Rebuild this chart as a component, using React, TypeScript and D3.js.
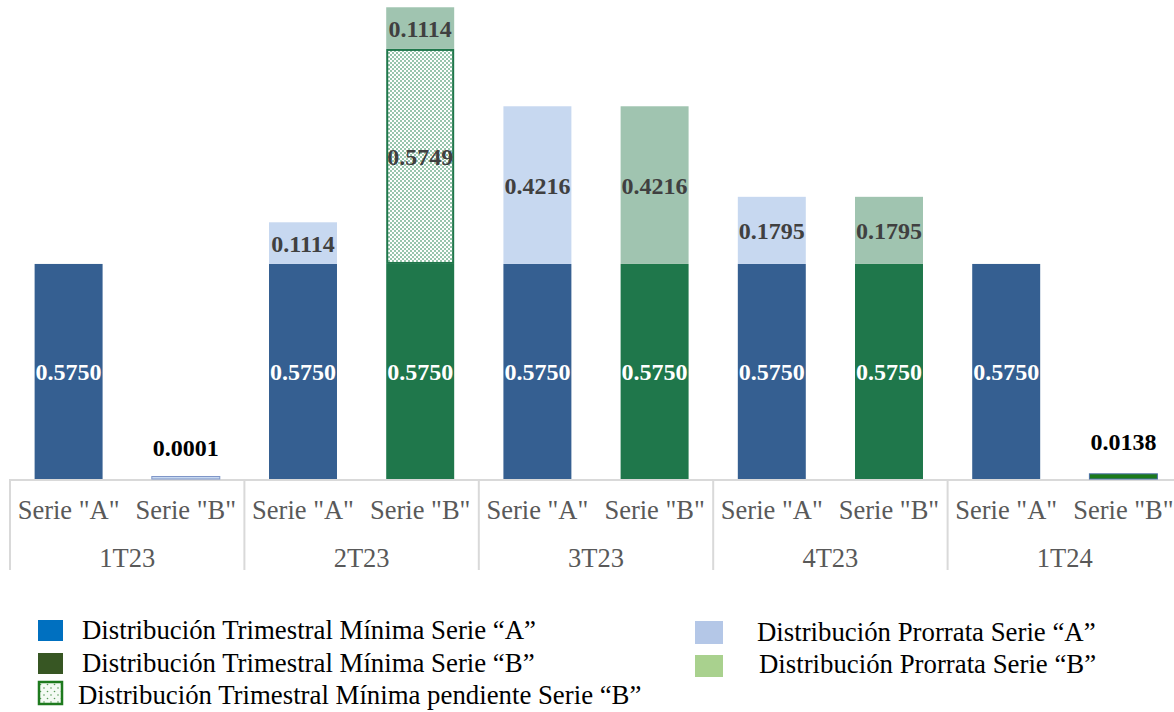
import React from "react";
import * as d3 from "d3";

const quarters = ["1T23", "2T23", "3T23", "4T23", "1T24"];
const seriesNames = ['Serie "A"', 'Serie "B"'];

const minimaA = [0.575, 0.575, 0.575, 0.575, 0.575];
const prorrataA = [0, 0.1114, 0.4216, 0.1795, 0];
const minimaB = [0.0001, 0.575, 0.575, 0.575, 0.0138];
const pendienteB = [0, 0.5749, 0, 0, 0];
const prorrataB = [0, 0.1114, 0.4216, 0.1795, 0];

const legendLeft = [
  "Distribución Trimestral Mínima Serie “A”",
  "Distribución Trimestral Mínima Serie “B”",
  "Distribución Trimestral Mínima pendiente Serie “B”",
];
const legendRight = ["Distribución Prorrata Serie “A”", "Distribución Prorrata Serie “B”"];

const FONT = '"Liberation Serif", "Times New Roman", serif';

const COL = {
  minA: "#355f91",
  proA: "#c7d8f0",
  minB: "#1f774b",
  proB: "#a0c4b0",
  pendBorder: "#1f774b",
};

type Seg = { key: string; value: number; fill: string; pattern?: boolean; dark: boolean };

export default function App() {
  const W = 1174;
  const H = 712;
  const baseY = 479;
  const x0 = d3.scaleBand<string>().domain(quarters).range([10, 1182]).padding(0);
  const x1 = d3.scaleBand<string>().domain(seriesNames).range([0, x0.bandwidth()]).paddingInner(0.42).paddingOuter(0.21);
  const y = d3.scaleLinear().domain([0, 1.28]).range([baseY, baseY - 1.28 * 374]);

  const bars: { q: string; s: string; segs: Seg[] }[] = [];
  quarters.forEach((q, i) => {
    bars.push({
      q,
      s: seriesNames[0],
      segs: [
        { key: "minA", value: minimaA[i], fill: COL.minA, dark: true },
        { key: "proA", value: prorrataA[i], fill: COL.proA, dark: false },
      ],
    });
    bars.push({
      q,
      s: seriesNames[1],
      segs: [
        { key: "minB", value: minimaB[i], fill: COL.minB, dark: true },
        { key: "pendB", value: pendienteB[i], fill: "url(#checker)", pattern: true, dark: false },
        { key: "proB", value: prorrataB[i], fill: COL.proB, dark: false },
      ],
    });
  });

  const bw = x1.bandwidth();
  const LBL = 24;
  const AX = 26.5;
  const LEG = 26.8;

  return (
    <svg width={W} height={H} style={{ position: "fixed", left: 0, top: 0, background: "#fff" }} fontFamily={FONT}>
      <defs>
        <pattern id="checker" width={4} height={4} patternUnits="userSpaceOnUse">
          <rect width={4} height={4} fill="#ffffff" />
          <rect x={0} y={0} width={2} height={2} fill="#98c5ac" />
          <rect x={2} y={2} width={2} height={2} fill="#98c5ac" />
        </pattern>
        <pattern id="dots" width={7} height={7} patternUnits="userSpaceOnUse">
          <rect width={7} height={7} fill="#f4faf4" />
          <circle cx={2} cy={2} r={0.8} fill="#5a9a5a" />
          <circle cx={5.5} cy={5.5} r={0.8} fill="#5a9a5a" />
        </pattern>
      </defs>

      {/* axis line */}
      <line x1={10} x2={W} y1={baseY + 1} y2={baseY + 1} stroke="#d9d9d9" strokeWidth={2} />
      {quarters.map((q) => (
        <line key={q} x1={x0(q)!} x2={x0(q)!} y1={baseY} y2={570} stroke="#d9d9d9" strokeWidth={2} />
      ))}

      {/* bars */}
      {bars.map((b, bi) => {
        const bx = x0(b.q)! + x1(b.s)!;
        let cum = 0;
        return (
          <g key={bi}>
            {b.segs.map((s, si) => {
              if (s.value <= 0) return null;
              const lo = cum;
              cum += s.value;
              const yTop = y(cum);
              const yBot = y(lo);
              const h = yBot - yTop;
              if (h < 6) {
                const hh = Math.max(h, 2.5);
                const isMicro = s.value < 0.001;
                return (
                  <g key={si}>
                    <rect
                      x={bx}
                      y={baseY - hh}
                      width={bw}
                      height={hh}
                      fill={isMicro ? "#c7d8f0" : "#1b7a1b"}
                      stroke={isMicro ? "#7f96c8" : "#4a6fa5"}
                      strokeWidth={1}
                    />
                    <text
                      x={bx + bw / 2}
                      y={baseY - hh - (isMicro ? 21 : 24)}
                      textAnchor="middle"
                      fontWeight="bold"
                      fontSize={LBL}
                      fill="#000"
                    >
                      {s.value.toFixed(4)}
                    </text>
                  </g>
                );
              }
              return (
                <g key={si}>
                  <rect
                    x={bx + (s.pattern ? 1 : 0)}
                    y={yTop + (s.pattern ? 1 : 0)}
                    width={bw - (s.pattern ? 2 : 0)}
                    height={h - (s.pattern ? 2 : 0)}
                    fill={s.fill}
                    stroke={s.pattern ? COL.pendBorder : "none"}
                    strokeWidth={s.pattern ? 2 : 0}
                  />
                  <text
                    x={bx + bw / 2}
                    y={(yTop + yBot) / 2}
                    dy="0.35em"
                    textAnchor="middle"
                    fontWeight="bold"
                    fontSize={LBL}
                    fill={s.dark ? "#ffffff" : "#404040"}
                  >
                    {s.value.toFixed(4)}
                  </text>
                </g>
              );
            })}
          </g>
        );
      })}

      {/* axis labels */}
      {quarters.map((q) => (
        <g key={q}>
          {seriesNames.map((s) => (
            <text
              key={s}
              x={x0(q)! + x1(s)! + bw / 2}
              y={519}
              textAnchor="middle"
              fontSize={AX}
              fill="#595959"
            >
              {s}
            </text>
          ))}
          <text x={x0(q)! + x0.bandwidth() / 2} y={567} textAnchor="middle" fontSize={AX} fill="#595959">
            {q}
          </text>
        </g>
      ))}

      {/* legend */}
      <rect x={38} y={620} width={25} height={21} fill="#0070c0" />
      <text x={82} y={639} fontSize={LEG} fill="#000">{legendLeft[0]}</text>
      <rect x={38} y={653} width={25} height={21} fill="#375623" />
      <text x={82} y={672} fontSize={LEG} fill="#000">{legendLeft[1]}</text>
      <rect x={39} y={682} width={23} height={22} fill="url(#dots)" stroke="#1e7a1e" strokeWidth={2.5} />
      <text x={78} y={704} fontSize={LEG} fill="#000">{legendLeft[2]}</text>

      <rect x={695} y={621} width={28} height={23} fill="#b4c7e7" />
      <text x={757} y={641} fontSize={LEG} fill="#000">{legendRight[0]}</text>
      <rect x={695} y={655} width={28} height={22} fill="#a9d18e" />
      <text x={759} y={673} fontSize={LEG} fill="#000">{legendRight[1]}</text>
    </svg>
  );
}
